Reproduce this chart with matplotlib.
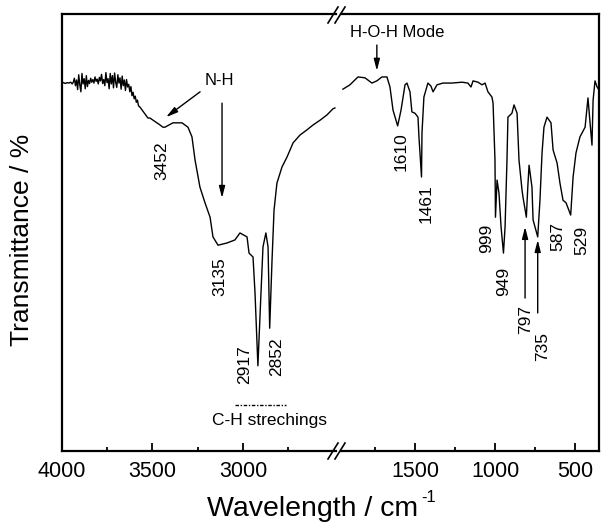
import matplotlib
matplotlib.use("Agg")
import matplotlib.pyplot as plt
from matplotlib.lines import Line2D

plt.rcParams['font.family'] = ['Liberation Sans', 'DejaVu Sans']

# high wavenumber part of the spectrum (cm-1, transmittance in arbitrary %)
wn_high = [4000, 3990, 3980, 3970, 3960, 3950, 3942,
           3936, 3930, 3924, 3918, 3912, 3906, 3900, 3894, 3888, 3882,
           3876, 3870, 3864, 3858, 3852, 3846, 3840, 3834, 3828, 3822,
           3816, 3810, 3804, 3798, 3792, 3786, 3780, 3774, 3768, 3762,
           3756, 3750, 3744, 3738, 3732, 3726, 3720, 3714, 3708, 3702,
           3696, 3690, 3684, 3678, 3672, 3666, 3660, 3654, 3648, 3642,
           3636, 3630, 3624, 3618, 3612, 3606, 3600, 3594, 3588, 3582, 3576,
           3568, 3524, 3513, 3457, 3441, 3430, 3386, 3347, 3336, 3303,
           3281, 3264, 3237, 3209, 3181, 3165, 3137, 3088, 3044, 3016,
           2977, 2966, 2944, 2933, 2917, 2900, 2889, 2873, 2861, 2852,
           2839, 2828, 2812, 2784, 2756, 2723, 2685, 2646, 2613, 2574,
           2536, 2503, 2492]
t_high = [84.2, 84.3, 84.1, 84.3, 84.2, 84.4, 84.0,
          84.4, 85.3, 83.6, 84.9, 82.7, 86.1, 83.8, 82.2, 86.4, 84.0,
          85.2, 82.9, 85.9, 83.4, 84.8, 84.1, 85.3, 84.4, 85.0, 84.2,
          85.6, 84.6, 85.1, 84.0, 85.5, 84.7, 86.2, 84.1, 85.0, 83.6,
          86.6, 84.3, 85.2, 82.9, 86.4, 84.0, 85.9, 83.1, 86.5, 84.4,
          83.2, 86.1, 84.2, 85.4, 82.8, 85.8, 83.6, 84.9, 82.5, 85.0,
          83.3, 83.9, 82.2, 83.4, 81.3, 82.1, 80.6, 81.2, 79.8, 80.3, 79.0,
          78.7, 76.2, 76.2, 74.6, 74.1, 74.1, 75.1, 75.1, 75.1, 74.1,
          71.9, 66.6, 60.4, 56.8, 53.5, 49.0, 47.1, 47.6, 48.3, 49.9,
          49.0, 45.3, 44.4, 36.2, 19.5, 36.2, 46.7, 49.9, 46.7, 28.1,
          43.7, 55.1, 61.3, 65.0, 67.3, 70.5, 72.3, 73.5, 74.6, 75.7,
          76.9, 78.3, 78.5]

# low wavenumber part
wn_low = [1952, 1908, 1858, 1814, 1771, 1740, 1708, 1677, 1658, 1639,
          1610, 1589, 1564, 1552, 1533, 1521, 1502, 1483, 1477, 1461,
          1458, 1446, 1421, 1402, 1389, 1364, 1327, 1271, 1208, 1171,
          1152, 1139, 1108, 1083, 1064, 1046, 1021, 1014, 1002, 999,
          989, 977, 964, 949, 939, 927, 921, 896, 883, 864,
          852, 833, 827, 806, 797, 789, 771, 764, 735, 721,
          708, 696, 677, 652, 639, 614, 596, 577, 558, 529,
          514, 496, 471, 439, 421, 408, 396, 389, 377, 364, 352]
t_low = [82.8, 83.8, 85.6, 85.4, 84.2, 84.7, 85.6, 85.6, 83.3, 78.0,
         74.4, 78.0, 83.8, 84.2, 82.2, 77.6, 77.3, 76.4, 71.9, 62.7,
         72.8, 81.0, 84.2, 83.5, 82.2, 83.8, 84.2, 84.2, 84.4, 84.2,
         83.3, 84.7, 84.4, 83.8, 84.2, 82.2, 81.0, 79.6, 66.6, 53.5,
         62.0, 59.0, 51.3, 45.3, 51.3, 66.6, 76.4, 77.3, 79.2, 77.3,
         66.6, 59.7, 58.1, 53.5, 60.4, 65.4, 60.4, 52.9, 49.0, 57.4,
         68.2, 74.1, 76.4, 75.1, 68.9, 65.9, 61.3, 57.4, 56.8, 54.0,
         62.7, 68.2, 71.9, 74.1, 80.8, 75.1, 70.0, 80.3, 84.7, 83.3, 82.6]

high_peaks = ['3452', '3135', '2917', '2852']
high_peak_pos = [(3446, 66.4), (3126, 40.0), (2988, 19.7), (2812, 21.7)]
low_peaks = ['1610', '1461', '999', '949', '797', '735', '587', '529']
low_peak_pos = [(1590, 68.4), (1433, 56.5), (1052, 48.7), (946, 38.7),
                (808, 30.0), (702, 24.0), (608, 49.2), (458, 48.3)]

fig = plt.figure(figsize=(6.03, 5.29), dpi=100)
ax1 = fig.add_axes([0.1023, 0.1474, 0.4549, 0.8261])
ax2 = fig.add_axes([0.5655, 0.1474, 0.4279, 0.8261], sharey=ax1)

ax1.plot(wn_high, t_high, color='k', lw=1.0)
ax2.plot(wn_low, t_low, color='k', lw=1.0)

ax1.set_xlim(4000, 2486)
ax2.set_xlim(1964, 352)
ax1.set_ylim(0, 100)

ax1.set_xticks([4000, 3500, 3000])
ax1.set_xticks([3750, 3250, 2750], minor=True)
ax2.set_xticks([1500, 1000, 500])
ax2.set_xticks([1750, 1250, 750], minor=True)

for ax in (ax1, ax2):
    ax.set_yticks([])
    ax.tick_params(axis='x', which='major', direction='in', length=6,
                   width=1.3, labelsize=15.5, pad=7)
    ax.tick_params(axis='x', which='minor', direction='in', length=3, width=1.3)
    for s in ax.spines.values():
        s.set_linewidth(1.6)
ax1.spines['right'].set_visible(False)
ax2.spines['left'].set_visible(False)
ax2.tick_params(axis='y', left=False, labelleft=False)

# break marks
W, H = 603.0, 529.0
for py in (15, 451):
    for dx in (-5, 2):
        fig.add_artist(Line2D([(333 + dx) / W, (343 + dx) / W],
                              [1 - (py + 8) / H, 1 - (py - 8) / H],
                              color='k', lw=1.2))

# peak labels
for lab, (x, y) in zip(high_peaks, high_peak_pos):
    ax1.text(x, y, lab, rotation=90, ha='center', va='center', fontsize=12.5)
for lab, (x, y) in zip(low_peaks, low_peak_pos):
    ax2.text(x, y, lab, rotation=90, ha='center', va='center', fontsize=12.5)

arrow = dict(arrowstyle='-|>,head_length=0.7,head_width=0.18', color='k',
             lw=1.0, shrinkA=0, shrinkB=0)
ax1.text(3131, 84.9, 'N-H', ha='center', va='center', fontsize=12)
ax1.annotate('', xy=(3424, 76.4), xytext=(3236, 82.2), arrowprops=arrow)
ax1.annotate('', xy=(3115, 57.9), xytext=(3115, 79.6), arrowprops=arrow)
ax1.plot([3043, 2762], [10.5, 10.5], color='k', lw=1.0,
         dashes=(2.5, 1.2, 1, 1.2))
ax1.text(2855, 6.9, 'C-H strechings', ha='center', va='center', fontsize=12.5)

ax2.text(1611, 95.7, 'H-O-H Mode', ha='center', va='center', fontsize=12)
ax2.annotate('', xy=(1740, 87.0), xytext=(1740, 92.9), arrowprops=arrow)
ax2.annotate('', xy=(814, 51.3), xytext=(814, 35.0), arrowprops=arrow)
ax2.annotate('', xy=(735, 48.3), xytext=(735, 31.6), arrowprops=arrow)

fig.text(0.037, 0.546, 'Transmittance / %', rotation=90, ha='center',
         va='center', fontsize=19)
fig.text(207 / W, 1 - 509 / H, 'Wavelength / cm', ha='left', va='center',
         fontsize=20.5)
fig.text(421 / W, 1 - 497 / H, '-1', ha='left', va='center', fontsize=12)

fig.savefig('out.png', dpi=100)
